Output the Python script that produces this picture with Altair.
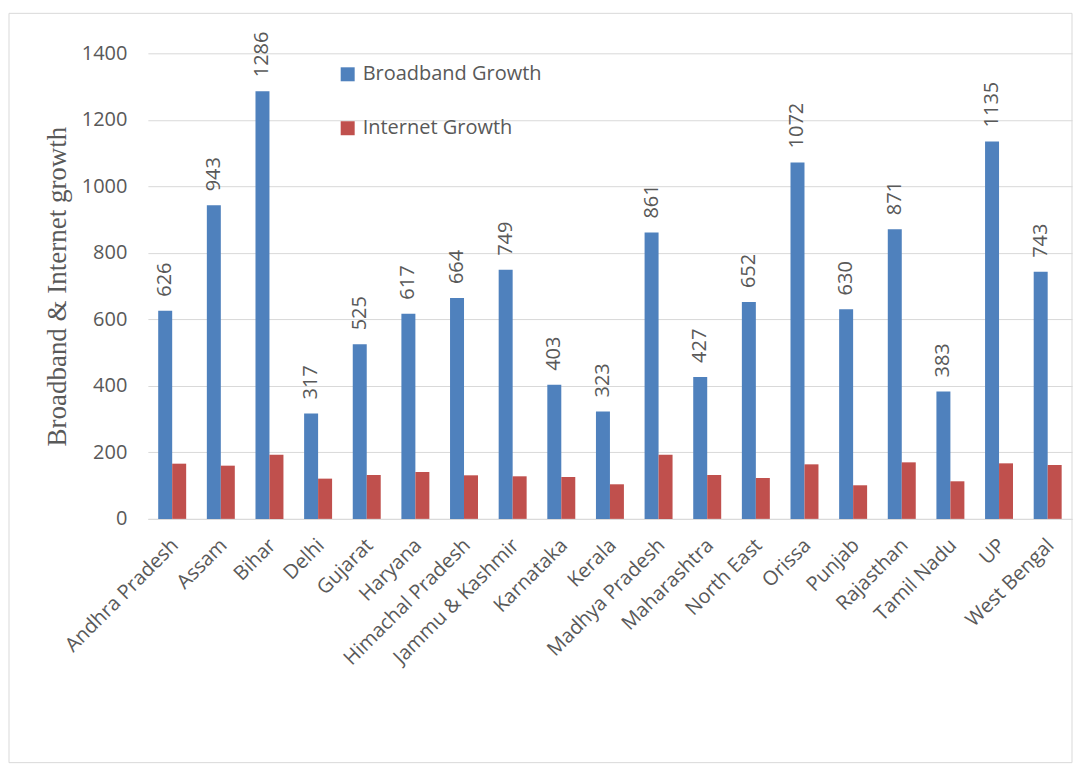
import altair as alt
import pandas as pd

states = ["Andhra Pradesh", "Assam", "Bihar", "Delhi", "Gujarat", "Haryana",
          "Himachal Pradesh", "Jammu & Kashmir", "Karnataka", "Kerala",
          "Madhya Pradesh", "Maharashtra", "North East", "Orissa", "Punjab",
          "Rajasthan", "Tamil Nadu", "UP", "West Bengal"]
broadband = [626, 943, 1286, 317, 525, 617, 664, 749, 403, 323, 861, 427,
             652, 1072, 630, 871, 383, 1135, 743]
internet = [166, 160, 193, 121, 132, 141, 131, 128, 126, 104, 193, 132,
            123, 164, 101, 170, 113, 167, 162]
series_names = ["Broadband Growth", "Internet Growth"]
series_colors = ["#4F81BD", "#C0504D"]
y_ticks = [0, 200, 400, 600, 800, 1000, 1200, 1400]

rows = []
for s, b, i in zip(states, broadband, internet):
    rows.append({"state": s, "series": series_names[0], "value": b})
    rows.append({"state": s, "series": series_names[1], "value": i})
df = pd.DataFrame(rows)

W, H = 925, 466
FONT = "Open Sans"
GREY = "#595959"

x_enc = alt.X("state:N", sort=states, title=None,
              scale=alt.Scale(paddingInner=0.425, paddingOuter=0.2125),
              axis=alt.Axis(labelAngle=-45, labelFontSize=20, labelFont=FONT,
                            labelColor=GREY, ticks=False, tickSize=0,
                            labelPadding=16, labelOffset=-4,
                            domainColor="#d9d9d9",
                            labelAlign="right", labelBaseline="top"))
xoff_enc = alt.XOffset("series:N", scale=alt.Scale(domain=series_names))
y_enc = alt.Y("value:Q", title="Broadband & Internet growth",
              scale=alt.Scale(domain=[0, 1400], nice=False),
              axis=alt.Axis(values=y_ticks, format="d", domain=False, ticks=False,
                            tickSize=0, labelPadding=21, labelFontSize=20,
                            labelFont=FONT, labelColor=GREY, gridColor="#d9d9d9",
                            titleFont="Liberation Serif", titleFontSize=27,
                            titleFontWeight="normal", titleColor=GREY,
                            titleAngle=-90, titleX=-90, titleY=H / 2,
                            titleAlign="center", titleBaseline="middle"))

bars = alt.Chart(df).mark_bar().encode(
    x=x_enc,
    xOffset=xoff_enc,
    y=y_enc,
    color=alt.Color("series:N",
                    scale=alt.Scale(domain=series_names, range=series_colors),
                    legend=alt.Legend(title=None, orient="none", legendX=190,
                                      legendY=11, direction="vertical",
                                      symbolType="square", symbolSize=196,
                                      symbolStrokeWidth=0, rowPadding=34,
                                      labelFontSize=20, labelFont=FONT,
                                      labelColor=GREY, labelOffset=5,
                                      labelLimit=0)),
)

labels = alt.Chart(df).transform_filter(
    alt.datum.series == series_names[0]
).mark_text(angle=270, align="left", baseline="middle", dx=14,
            fontSize=20, font=FONT, color=GREY).encode(
    x=alt.X("state:N", sort=states),
    xOffset=xoff_enc,
    y="value:Q",
    text="value:Q",
)

frame = alt.Chart(alt.Data(values=[{"a": 1}])).mark_rect(
    fill=None, stroke="#d9d9d9", strokeWidth=1).encode(
    x=alt.value(-139), x2=alt.value(925), y=alt.value(-40), y2=alt.value(710)
)

chart = alt.layer(frame, bars, labels).properties(
    width=W, height=H,
    padding={"top": 4, "left": 0, "right": 0, "bottom": 0},
).configure_view(stroke=None)

chart.save("out.html", embed_options={"renderer": "svg", "actions": False})
